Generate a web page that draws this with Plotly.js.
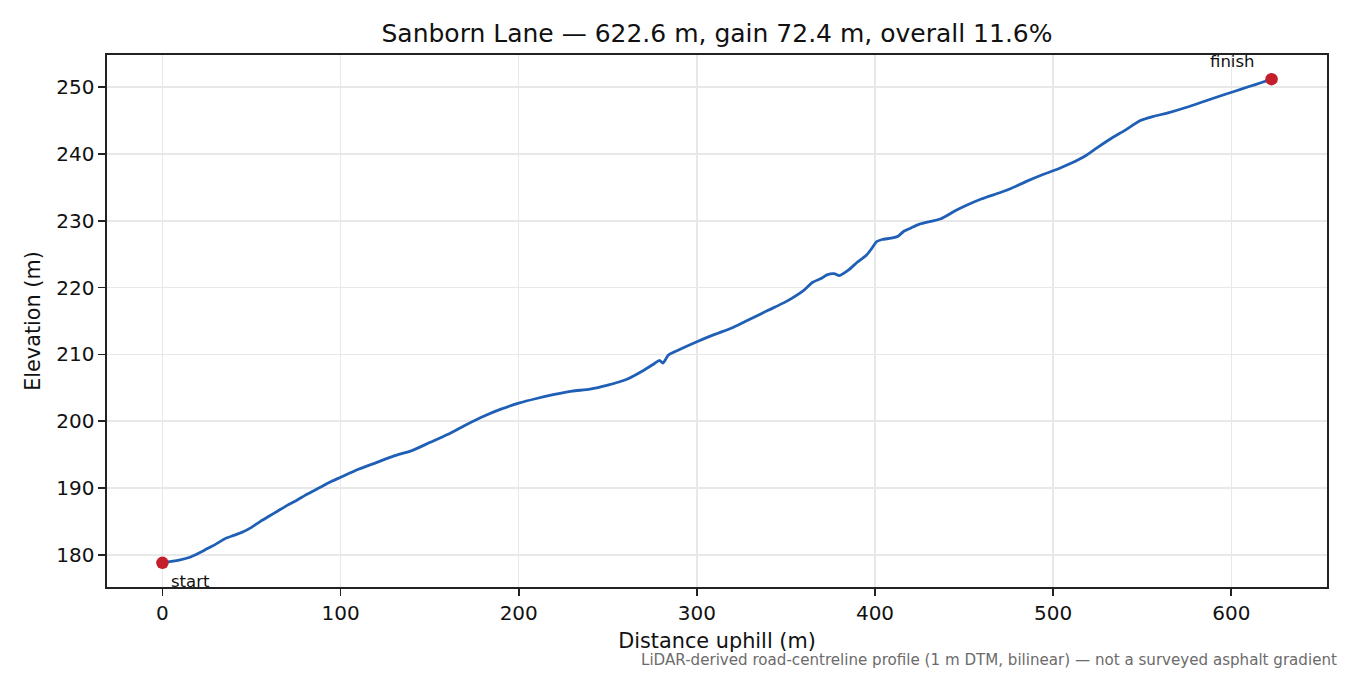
<!DOCTYPE html>
<html>
<head>
<meta charset="utf-8">
<script src="https://cdn.plot.ly/plotly-3.0.1.min.js"></script>
<style>html,body{margin:0;padding:0;background:#fff;}#chart{width:1350px;height:675px;}</style>
</head>
<body>
<div id="chart"></div>
<script>
const distance = [0,5,10,15,20,25,30,35,40,45,50,55,60,65,70,75,80,85,90,95,100,110,120,130,140,150,160,170,180,190,200,210,220,230,240,250,260,270,276,279,281,284,290,300,310,320,330,340,350,360,365,370,373,377,380,385,390,395,398,401,404,409,413,416,420,425,437,445,452,460,470,476,485,495,503,510,518,525,533,540,549,556,565,575,585,595,602,610,617,622.6];
const elevation = [178.8,179.0,179.25,179.6,180.2,180.9,181.6,182.4,182.9,183.4,184.1,185.0,185.8,186.6,187.4,188.1,188.9,189.6,190.3,191.0,191.6,192.8,193.8,194.8,195.6,196.8,198.0,199.4,200.7,201.8,202.7,203.4,204.0,204.5,204.8,205.4,206.2,207.6,208.6,209.1,208.7,209.9,210.7,211.9,213.0,214.0,215.3,216.6,217.9,219.6,220.8,221.4,221.9,222.1,221.8,222.6,223.8,224.8,225.8,226.9,227.2,227.4,227.7,228.4,228.9,229.5,230.3,231.5,232.4,233.3,234.2,234.8,235.9,237.0,237.8,238.6,239.7,241.0,242.4,243.5,245.0,245.6,246.2,247.0,247.9,248.8,249.4,250.1,250.7,251.2];
const endpointLabels = ["start","finish"];
const titleText = "Sanborn Lane — 622.6 m, gain 72.4 m, overall 11.6%";
const xTicks = [0,100,200,300,400,500,600];
const yTicks = [180,190,200,210,220,230,240,250];
const footnote = "LiDAR-derived road-centreline profile (1 m DTM, bilinear) — not a surveyed asphalt gradient";

const n = distance.length;
const endX = [distance[0], distance[n-1]];
const endY = [elevation[0], elevation[n-1]];

const font = "DejaVu Sans, Verdana, sans-serif";
const axisCommon = {
  showline: true, mirror: true, linecolor: "#222", linewidth: 1.6,
  ticks: "outside", ticklen: 7, tickwidth: 1.6, tickcolor: "#222",
  showgrid: true, gridcolor: "#e8e8e8", gridwidth: 1.5,
  zeroline: false,
  tickfont: {family: font, size: 20, color: "#111"}
};

const traces = [
  {x: distance, y: elevation, type: "scatter", mode: "lines",
   line: {color: "#1f5fb5", width: 2.8, shape: "spline", smoothing: 0.6}, hoverinfo: "x+y", showlegend: false},
  {x: endX, y: endY, type: "scatter", mode: "markers",
   marker: {color: "#c41e2a", size: 12.5}, showlegend: false}
];

const layout = {
  width: 1350, height: 675,
  paper_bgcolor: "#fff", plot_bgcolor: "#fff",
  margin: {l: 107, r: 23, t: 55, b: 88},
  title: {text: titleText, font: {family: font, size: 25, color: "#111"},
          x: 0.5, xref: "paper", y: 1 - 33/675, yref: "container", yanchor: "middle"},
  xaxis: Object.assign({}, axisCommon, {
    range: [-31.13, 653.73], tickvals: xTicks, ticktext: xTicks.map(String),
    title: {text: "Distance uphill (m)", font: {family: font, size: 20.8, color: "#111"}, standoff: 10}
  }),
  yaxis: Object.assign({}, axisCommon, {
    range: [175.18, 254.82], tickvals: yTicks, ticktext: yTicks.map(String),
    title: {text: "Elevation (m)", font: {family: font, size: 20.8, color: "#111"}, standoff: 10}
  }),
  annotations: [
    {x: endX[0], y: endY[0], xref: "x", yref: "y", text: endpointLabels[0], showarrow: false,
     xshift: 28, yshift: -19, font: {family: font, size: 16.5, color: "#111"}},
    {x: endX[1], y: endY[1], xref: "x", yref: "y", text: endpointLabels[1], showarrow: false,
     xshift: -39, yshift: 18, font: {family: font, size: 16.5, color: "#111"}},
    {x: 1.0098, y: -(660-587)/532, xref: "paper", yref: "paper", text: footnote, showarrow: false,
     xanchor: "right", yanchor: "middle", font: {family: font, size: 15.1, color: "#6b6b6b"}}
  ]
};

Plotly.newPlot("chart", traces, layout, {displayModeBar: false, staticPlot: true});
</script>
</body>
</html>
